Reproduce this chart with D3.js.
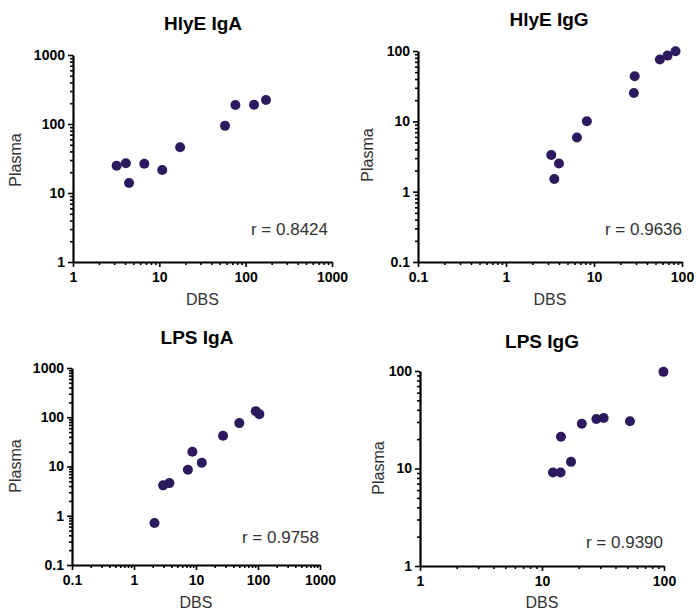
<!DOCTYPE html>
<html>
<head>
<meta charset="utf-8">
<script src="https://cdn.jsdelivr.net/npm/d3@7"></script>
<style>
  html, body { margin: 0; padding: 0; background: #fff; }
  svg { display: block; }
</style>
</head>
<body>
<svg id="chart" width="697" height="612"></svg>
<script>
// ---- Data ----
const titles = ["HlyE IgA", "HlyE IgG", "LPS IgA", "LPS IgG"];
const rLabels = ["r = 0.8424", "r = 0.9636", "r = 0.9758", "r = 0.9390"];

const hlyeIgA_DBS    = [3.2, 4.1, 4.46, 6.7, 10.8, 17.4, 57.7, 76, 125, 172];
const hlyeIgA_Plasma = [24.9, 27, 14, 26.6, 21.5, 46, 94, 188, 190, 223];

const hlyeIgG_DBS    = [3.27, 3.54, 4.0, 6.4, 8.3, 28.4, 29, 56, 68.5, 84.5];
const hlyeIgG_Plasma = [3.33, 1.51, 2.51, 5.9, 10, 25.3, 43.8, 75.7, 86, 99];

const lpsIgA_DBS     = [2.14, 2.95, 3.73, 7.4, 8.75, 12.4, 27.3, 50, 92, 105];
const lpsIgA_Plasma  = [0.71, 4.14, 4.6, 8.6, 20, 11.9, 42, 76, 133, 115.6];

const lpsIgG_DBS     = [12.3, 14.2, 14.3, 17.3, 21.2, 27.9, 32, 52.6, 99];
const lpsIgG_Plasma  = [9.1, 9.1, 21.2, 11.7, 28.8, 32.2, 33, 30.5, 98];

const xDomains = [[1, 1000], [0.1, 100], [0.1, 1000], [1, 100]];
const yDomains = [[1, 1000], [0.1, 100], [0.1, 1000], [1, 100]];

const xTickLabels = [["1","10","100","1000"], ["0.1","1","10","100"], ["0.1","1","10","100","1000"], ["1","10","100"]];
const yTickLabels = [["1","10","100","1000"], ["0.1","1","10","100"], ["0.1","1","10","100","1000"], ["1","10","100"]];

const xSeries = [hlyeIgA_DBS, hlyeIgG_DBS, lpsIgA_DBS, lpsIgG_DBS];
const ySeries = [hlyeIgA_Plasma, hlyeIgG_Plasma, lpsIgA_Plasma, lpsIgG_Plasma];

// ---- Layout ----
const layout = [
  { x0: 73,  x1: 332, y0: 55,  y1: 262, titleX: 203, titleY: 30,  plasmaX: 15,  plasmaY: 160, dbsY: 305, rX: 328, rY: 235 },
  { x0: 418, x1: 682, y0: 51,  y1: 262, titleX: 549, titleY: 26,  plasmaX: 367, plasmaY: 155, dbsY: 305, rX: 682, rY: 235 },
  { x0: 72,  x1: 320, y0: 368, y1: 565, titleX: 197, titleY: 344, plasmaX: 15,  plasmaY: 466, dbsY: 608, rX: 319, rY: 543 },
  { x0: 420, x1: 664, y0: 371, y1: 566, titleX: 542, titleY: 348, plasmaX: 378, plasmaY: 468, dbsY: 608, rX: 663, rY: 548 }
];

const dotColor = "#2d1a5e";
const textGray = "#333333";
const svg = d3.select("#chart");

function minorTicks(domain) {
  const out = [];
  const lo = Math.round(Math.log10(domain[0])), hi = Math.round(Math.log10(domain[1]));
  for (let e = lo; e < hi; e++) {
    for (let k = 2; k <= 9; k++) out.push(k * Math.pow(10, e));
  }
  return out;
}
function majorTicks(domain) {
  const out = [];
  const lo = Math.round(Math.log10(domain[0])), hi = Math.round(Math.log10(domain[1]));
  for (let e = lo; e <= hi; e++) out.push(Math.pow(10, e));
  return out;
}

layout.forEach((L, i) => {
  const x = d3.scaleLog().domain(xDomains[i]).range([L.x0, L.x1]);
  const y = d3.scaleLog().domain(yDomains[i]).range([L.y1, L.y0]);
  const g = svg.append("g");

  // Title
  g.append("text")
    .attr("x", L.titleX).attr("y", L.titleY)
    .attr("text-anchor", "middle")
    .attr("font-family", "Liberation Sans, Arial, sans-serif")
    .attr("font-weight", "bold").attr("font-size", 19)
    .attr("fill", "#000")
    .text(titles[i]);

  // X axis
  const xMaj = majorTicks(xDomains[i]);
  const xAxisG = g.append("g").attr("transform", `translate(0,${L.y1})`);
  xAxisG.call(d3.axisBottom(x).tickValues(minorTicks(xDomains[i])).tickSize(3).tickFormat(""));
  xAxisG.call(g2 => g2.select(".domain").remove());
  const xMajG = g.append("g").attr("transform", `translate(0,${L.y1})`)
    .call(d3.axisBottom(x).tickValues(xMaj).tickSize(5).tickSizeOuter(0)
      .tickFormat((d, j) => xTickLabels[i][j]).tickPadding(5));
  xMajG.selectAll(".tick text")
    .attr("font-family", "Liberation Sans, Arial, sans-serif")
    .attr("font-weight", "bold").attr("font-size", 14).attr("fill", "#000");

  // Y axis
  const yMaj = majorTicks(yDomains[i]);
  const yAxisG = g.append("g").attr("transform", `translate(${L.x0},0)`);
  yAxisG.call(d3.axisLeft(y).tickValues(minorTicks(yDomains[i])).tickSize(3).tickFormat(""));
  yAxisG.call(g2 => g2.select(".domain").remove());
  const yMajG = g.append("g").attr("transform", `translate(${L.x0},0)`)
    .call(d3.axisLeft(y).tickValues(yMaj).tickSize(5).tickSizeOuter(0)
      .tickFormat((d, j) => yTickLabels[i][j]).tickPadding(3));
  yMajG.selectAll(".tick text")
    .attr("font-family", "Liberation Sans, Arial, sans-serif")
    .attr("font-weight", "bold").attr("font-size", 14).attr("fill", "#000");

  [xAxisG, xMajG, yAxisG, yMajG].forEach(a => {
    a.selectAll("line").attr("stroke", "#000").attr("stroke-width", 1.6);
    a.selectAll(".domain").attr("stroke", "#000").attr("stroke-width", 2.2);
  });

  // Axis titles
  g.append("text")
    .attr("transform", `translate(${L.plasmaX},${L.plasmaY}) rotate(-90)`)
    .attr("text-anchor", "middle").attr("dy", "0.35em")
    .attr("font-family", "Liberation Sans, Arial, sans-serif")
    .attr("font-size", 16).attr("fill", textGray)
    .text("Plasma");
  g.append("text")
    .attr("x", (L.x0 + L.x1) / 2).attr("y", L.dbsY)
    .attr("text-anchor", "middle")
    .attr("font-family", "Liberation Sans, Arial, sans-serif")
    .attr("font-size", 16).attr("fill", textGray)
    .text("DBS");

  // r label
  g.append("text")
    .attr("x", L.rX).attr("y", L.rY)
    .attr("text-anchor", "end")
    .attr("font-family", "Liberation Sans, Arial, sans-serif")
    .attr("font-size", 17).attr("fill", textGray)
    .text(rLabels[i]);

  // Points
  const pts = xSeries[i].map((v, j) => ({ x: v, y: ySeries[i][j] }));
  g.append("g").selectAll("circle").data(pts).enter().append("circle")
    .attr("cx", d => x(d.x)).attr("cy", d => y(d.y))
    .attr("r", 5).attr("fill", dotColor);
});
</script>
</body>
</html>
